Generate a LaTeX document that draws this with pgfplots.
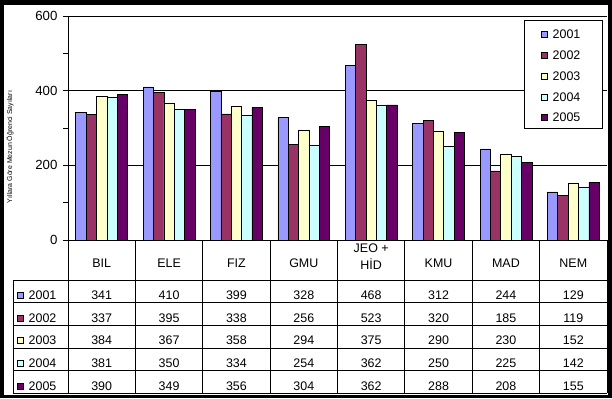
\documentclass[border=0pt]{standalone}
\usepackage{pgfplots}
\pgfplotsset{compat=1.18}
\usepackage{fontspec}
\setmainfont{Liberation Sans}
\definecolor{c1}{HTML}{9999FF}
\definecolor{c2}{HTML}{993366}
\definecolor{c3}{HTML}{FFFFCC}
\definecolor{c4}{HTML}{CCFFFF}
\definecolor{c5}{HTML}{660066}
\begin{document}
\begin{tikzpicture}[x=1bp,y=1bp]
\fill[black] (0,0) rectangle (612,398);
\fill[white] (4,3) rectangle (608,393);
\node[rotate=90,inner sep=0,font=\fontsize{7}{8}\selectfont] at (10,251) {Yıllara Göre Mezun Öğrenci Sayıları};
\begin{axis}[at={(68bp,158bp)}, anchor=south west, scale only axis,
  width=539bp, height=224bp, xmin=-0.5, xmax=7.5, ymin=0, ymax=600,
  axis lines*=left, xtick=\empty, ytick={0,200,400,600}, minor ytick={100,300,500},
  tick align=outside, major tick length=5bp, minor tick length=5bp,
  ymajorgrids, grid style={black, line width=0.8bp},
  axis line style={line width=0.8bp}, tick style={black, line width=0.8bp},
  ybar=0pt, bar width=0.1538,
  ticklabel style={font=\fontsize{13.3}{15}\selectfont},
  /pgf/number format/assume math mode=true,
  yticklabel style={xshift=-2bp},
  every axis plot/.append style={draw=black, line width=0.6bp}]
\addplot[fill=c1] coordinates {(0,341)(1,410)(2,399)(3,328)(4,468)(5,312)(6,244)(7,129)};
\addplot[fill=c2] coordinates {(0,337)(1,395)(2,338)(3,256)(4,523)(5,320)(6,185)(7,119)};
\addplot[fill=c3] coordinates {(0,384)(1,367)(2,358)(3,294)(4,375)(5,290)(6,230)(7,152)};
\addplot[fill=c4] coordinates {(0,381)(1,350)(2,334)(3,254)(4,362)(5,250)(6,225)(7,142)};
\addplot[fill=c5] coordinates {(0,390)(1,349)(2,356)(3,304)(4,362)(5,288)(6,208)(7,155)};
\end{axis}
% data table
\begin{scope}[line width=0.8bp]
\foreach \k in {0,...,8} { \draw ({68+67.375*\k},158) -- ({68+67.375*\k},5); }
\foreach \yy in {118,95.3,72.7,50,27.3,5} { \draw (13,\yy) -- (607,\yy); }
\draw (13,118) -- (13,5);
\end{scope}
\begin{scope}[every node/.style={font=\fontsize{12.5}{14}\selectfont, inner sep=0}]
\foreach \n [count=\i from 0] in {BIL,ELE,FIZ,GMU,KMU,MAD,NEM} {
  \pgfmathsetmacro{\cc}{\i<4 ? \i : \i+1}
  \node at ({68+67.375*(\cc+0.5)},135) {\n};
}
\node[align=center, font=\fontsize{12.5}{17}\selectfont] at ({68+67.375*4.5},141.5) {JEO +\\HİD};
\foreach \row/\yc/\col/\vals in {
  2001/102.7/c1/{341,410,399,328,468,312,244,129},
  2002/80/c2/{337,395,338,256,523,320,185,119},
  2003/57.3/c3/{384,367,358,294,375,290,230,152},
  2004/34.7/c4/{381,350,334,254,362,250,225,142},
  2005/12/c5/{390,349,356,304,362,288,208,155}} {
  \draw[fill=\col, line width=0.6bp] (17,\yc-3) rectangle (23,\yc+3);
  \node[anchor=west] at (28.5,\yc) {\row};
  \foreach \v [count=\i from 0] in \vals {
    \node at ({68+67.375*(\i+0.5)},\yc) {\v};
  }
}
% legend
\draw[line width=0.8bp, fill=white] (524,378) rectangle (602.7,270);
\foreach \row/\yc/\col in {2001/363.5/c1,2002/342.7/c2,2003/321.9/c3,2004/301.1/c4,2005/280.3/c5} {
  \draw[fill=\col, line width=0.6bp] (541.5,\yc-3) rectangle (547.5,\yc+3);
  \node[anchor=west] at (552.5,\yc) {\row};
}
\end{scope}
\end{tikzpicture}
\end{document}
